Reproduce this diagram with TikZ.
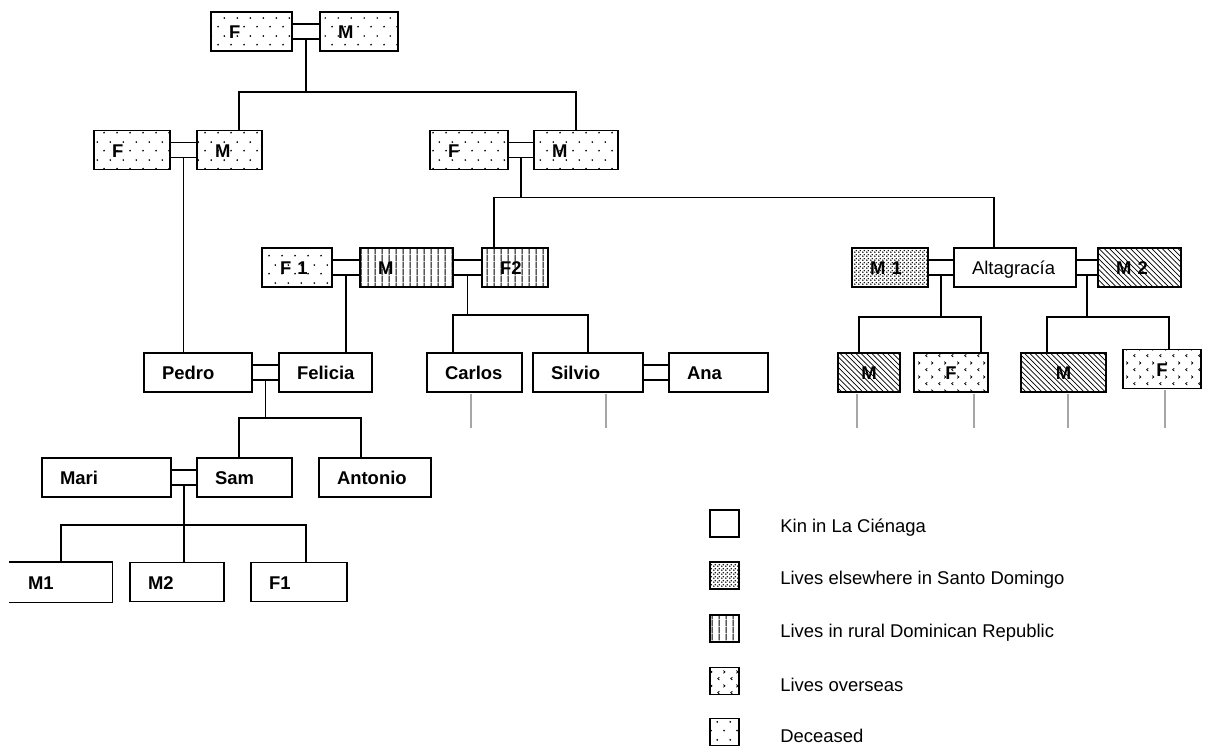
\documentclass[tikz,border=0pt]{standalone}
\usepackage{fontspec}
\setmainfont{Liberation Sans}
\usetikzlibrary{calc,patterns}

% fill patterns for the key
\pgfdeclarepatternformonly{deaddots}{\pgfpointorigin}{\pgfpoint{7.2pt}{10pt}}{\pgfpoint{7.2pt}{10pt}}{
  \pgfpathcircle{\pgfpoint{1.8pt}{2.5pt}}{0.55pt}
  \pgfpathcircle{\pgfpoint{5.4pt}{7.5pt}}{0.55pt}
  \pgfusepath{fill}}
\pgfdeclarepatternformonly{citydots}{\pgfpointorigin}{\pgfpoint{2pt}{2pt}}{\pgfpoint{2pt}{2pt}}{
  \pgfpathcircle{\pgfpoint{0.5pt}{0.5pt}}{0.5pt}
  \pgfpathcircle{\pgfpoint{1.5pt}{1.5pt}}{0.5pt}
  \pgfusepath{fill}}
\pgfdeclarepatternformonly{rurallines}{\pgfpointorigin}{\pgfpoint{4pt}{4pt}}{\pgfpoint{4pt}{4pt}}{
  \pgfsetlinewidth{0.65pt}
  \pgfpathmoveto{\pgfpoint{2pt}{0pt}}
  \pgfpathlineto{\pgfpoint{2pt}{4pt}}
  \pgfusepath{stroke}}
\pgfdeclarepatternformonly{abroadmarks}{\pgfpointorigin}{\pgfpoint{7.4pt}{8pt}}{\pgfpoint{7.4pt}{8pt}}{
  \pgfsetlinewidth{0.45pt}
  \pgfpathmoveto{\pgfpoint{2.6pt}{2.8pt}}\pgfpathlineto{\pgfpoint{1.6pt}{2pt}}\pgfpathlineto{\pgfpoint{2.6pt}{1.2pt}}
  \pgfpathmoveto{\pgfpoint{5pt}{6.8pt}}\pgfpathlineto{\pgfpoint{6pt}{6pt}}\pgfpathlineto{\pgfpoint{5pt}{5.2pt}}
  \pgfusepath{stroke}}

\begin{document}
\begin{tikzpicture}[x=0.02cm, y=-0.02cm,
    person/.style={draw, thick, rectangle, minimum height=0.78cm,
                   inner xsep=0.36cm, inner ysep=0pt, align=left,
                   text height=8pt, text depth=0pt,
                   font=\fontsize{10.5}{12}\selectfont\bfseries},
    dead/.style={pattern=deaddots},
    city/.style={pattern=citydots},
    rural/.style={pattern=rurallines},
    abroad/.style={pattern=abroadmarks},
    hatch/.style={pattern=north west lines},
    marriage/.style={double, thick, double distance=0.27cm},
    link/.style={thick},
    stub/.style={gray!70, line width=0.6pt},
    keybox/.style={draw, thick, minimum width=0.58cm, minimum height=0.54cm, inner sep=0pt},
    keytext/.style={anchor=west, inner sep=0pt, font=\fontsize{10.5}{12}\selectfont}
  ]
  \useasboundingbox (0,0) rectangle (1211,752);

  % grandparents
  \node[person, dead, text width=0.90cm] (gpF) at (251.5,31.5) {F};
  \node[person, dead, text width=0.84cm] (gpM) at (359,31.5) {M};

  % parents
  \node[person, dead, text width=0.80cm] (pF) at (132,150) {F};
  \node[person, dead, text width=0.58cm] (pM) at (229.5,150) {M};
  \node[person, dead, text width=0.84cm] (qF) at (469,150) {F};
  \node[person, dead, text width=0.96cm] (qM) at (576,150) {M};

  % third row
  \node[person, dead, text width=0.68cm] (f1) at (297,267.5) {F 1};
  \node[person, rural, text width=1.14cm] (mr) at (406.5,267.5) {M};
  \node[person, rural, text width=0.60cm] (f2) at (515,267.5) {F2};
  \node[person, city, text width=0.80cm] (m1) at (890,267.5) {M 1};
  \node[person, text width=1.72cm, font=\fontsize{10.5}{12}\selectfont] (alt) at (1015,267.5) {Altagracía};
  \node[person, hatch, text width=0.94cm] (m2) at (1139.5,267.5) {M 2};

  % fourth row
  \node[person, text width=1.44cm] (pedro) at (198,372.5) {Pedro};
  \node[person, text width=1.14cm] (felicia) at (325.5,372.5) {Felicia};
  \node[person, text width=1.18cm] (carlos) at (474.5,372.5) {Carlos};
  \node[person, text width=1.48cm] (silvio) at (588,372.5) {Silvio};
  \node[person, text width=1.26cm] (ana) at (718.5,372.5) {Ana};
  \node[person, hatch, align=center, text width=0.52cm] (rM1) at (869,372.5) {M};
  \node[person, abroad, align=center, text width=0.76cm] (rF1) at (951,372.5) {F};
  \node[person, hatch, align=center, text width=0.98cm] (rM2) at (1063.5,372.5) {M};
  \node[person, abroad, align=center, text width=0.84cm] (rF2) at (1162,369) {F};

  % fifth row
  \node[person, text width=1.86cm] (mari) at (106.5,477.5) {Mari};
  \node[person, text width=1.18cm] (sam) at (244.5,477.5) {Sam};
  \node[person, text width=1.52cm] (antonio) at (375,477.5) {Antonio};

  % grandchildren
  \node[person, draw=none, text width=1.32cm] (sM1) at (61,582) {M1};
  \draw[thick] (sM1.north west) -- (sM1.north east) -- (sM1.south east) -- (sM1.south west);
  \node[person, text width=1.16cm] (sM2) at (177,582) {M2};
  \node[person, text width=1.20cm] (sF1) at (299,582) {F1};

  % couples
  \draw[marriage] (gpF) -- (gpM);
  \draw[marriage] (pF) -- (pM); \draw[marriage] (qF) -- (qM);
  \draw[marriage] (f1) -- (mr); \draw[marriage] (mr) -- (f2);
  \draw[marriage] (m1) -- (alt); \draw[marriage] (alt) -- (m2);
  \draw[marriage] (pedro) -- (felicia); \draw[marriage] (silvio) -- (ana);
  \draw[marriage] (mari) -- (sam);

  \coordinate (gpC) at ($(gpF.east)!0.5!(gpM.west)+(0,7.5)$);
  \coordinate (pC) at ($(pF.east)!0.5!(pM.west)+(0,7.5)$);
  \coordinate (qC) at ($(qF.east)!0.5!(qM.west)+(0,7.5)$);
  \coordinate (fC) at ($(f1.east)!0.5!(mr.west)+(0,7.5)$);
  \coordinate (mC) at ($(mr.east)!0.5!(f2.west)+(0,7.5)$);
  \coordinate (aC) at ($(m1.east)!0.5!(alt.west)+(0,7.5)$);
  \coordinate (bC) at ($(alt.east)!0.5!(m2.west)+(0,7.5)$);
  \coordinate (pfC) at ($(pedro.east)!0.5!(felicia.west)+(0,7.5)$);
  \coordinate (msC) at ($(mari.east)!0.5!(sam.west)+(0,7.5)$);

  % descent lines
  \draw[link] (gpC) -- ++(0,53) -| ($(pM.north)+(9.5,0)$);
  \draw[link] (gpC) ++(0,53) -| (qM.north);
  \draw[link] (pC) -- (pC |- pedro.north);
  \draw[link] (qC) -- ++(0,40) -| ($(f2.north)+(-21,0)$);
  \draw[link] (qC) ++(0,40) -| ($(alt.north)+(-21,0)$);
  \draw[link] (fC) -- (fC |- felicia.north);
  \draw[link] (mC) -- ++(0,40) -| ($(carlos.north)+(-21.5,0)$);
  \draw[link] (mC) ++(0,40) -| (silvio.north);
  \draw[link] (aC) -- ++(0,42) -| ($(rM1.north)+(-10,0)$);
  \draw[link] (aC) ++(0,42) -| ($(rF1.north)+(30,0)$);
  \draw[link] (bC) -- ++(0,42) -| ($(rM2.north)+(-16.5,0)$);
  \draw[link] (bC) ++(0,42) -| ($(rF2.north)+(7,0)$);
  \draw[link] (pfC) -- ++(0,38) -| ($(sam.north)+(-5.5,0)$);
  \draw[link] (pfC) ++(0,38) -| ($(antonio.north)+(-14,0)$);
  \draw[link] (msC) -- ++(0,40) -| (sM1.north);
  \draw[link] (msC) -- (msC |- sM2.north);
  \draw[link] (msC) ++(0,40) -| ($(sF1.north)+(7,0)$);

  % lines going on
  \draw[stub] ($(carlos.south)+(-3.5,1)$) -- ++(0,34);
  \draw[stub] ($(silvio.south)+(18,1)$) -- ++(0,34);
  \draw[stub] ($(rM1.south)+(-12,1)$) -- ++(0,34);
  \draw[stub] ($(rF1.south)+(23,1)$) -- ++(0,34);
  \draw[stub] ($(rM2.south)+(4.5,1)$) -- ++(0,34);
  \draw[stub] ($(rF2.south)+(3,1)$) -- ++(0,38);

  % key
  \node[keybox] (k1) at (724.5,523.5) {};
  \node[keybox, city] (k2) at (724.5,575.5) {};
  \node[keybox, rural] (k3) at (724.5,628.5) {};
  \node[keybox, abroad] (k4) at (724.5,681) {};
  \node[keybox, dead] (k5) at (724.5,732) {};
  \node[keytext] (t1) at (780,527.5) {Kin in La Ciénaga};
  \node[keytext] (t2) at (780,579.5) {Lives elsewhere in Santo Domingo};
  \node[keytext] (t3) at (780,632.5) {Lives in rural Dominican Republic};
  \node[keytext] (t4) at (780,685) {Lives overseas};
  \node[keytext] (t5) at (780,736) {Deceased};
\end{tikzpicture}
\end{document}
